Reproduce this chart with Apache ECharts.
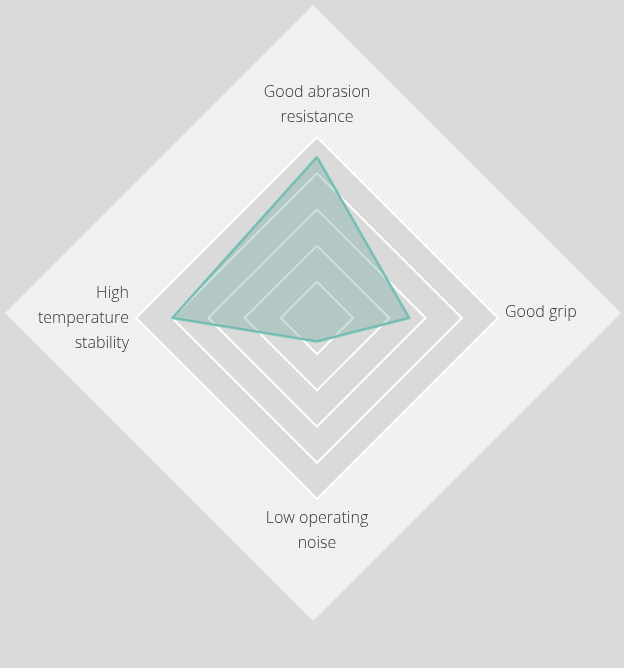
<!DOCTYPE html>
<html>
<head>
<meta charset="utf-8">
<title>Radar</title>
<script src="https://cdn.jsdelivr.net/npm/echarts@6/dist/echarts.min.js"></script>
<style>
html,body{margin:0;padding:0;background:#dadada;}
#main{width:624px;height:668px;}
</style>
</head>
<body>
<div id="main"></div>
<script>
// indicators in ECharts order: top, left, bottom, right
var indicatorNames = ['Good abrasion\nresistance', 'High\ntemperature\nstability', 'Low operating\nnoise', 'Good grip'];
var indicatorMax = [10, 10, 10, 10];
var scores = [8.9, 8.0, 1.3, 5.1];

window.onload = function () {
	initPage();
};

function initPage(){
	var myChart = echarts.init(document.getElementById('main'));
	var indicator = [];
	var bgIndicator = [];
	for(var i=0;i<indicatorNames.length;i++){
		indicator.push({name: indicatorNames[i], max: indicatorMax[i]});
		bgIndicator.push({name: '', max: indicatorMax[i]});
	}

	var option = {
		backgroundColor: '#dadada',
		radar: [
			{
				// big light diamond behind everything
				indicator: bgIndicator,
				shape: 'polygon',
				center: [313, 313],
				radius: 308,
				splitNumber: 1,
				silent: true,
				axisName: {show: false},
				axisLine: {show: false},
				axisTick: {show: false},
				splitLine: {show: false},
				splitArea: {areaStyle: {color: ['#f0f0f0']}}
			},
			{
				indicator: indicator,
				shape: 'polygon',
				center: [317, 318],
				radius: 181,
				splitNumber: 5,
				nameGap: 7,
				axisName: {
					color: '#333',
					fontSize: 16,
					lineHeight: 25,
					fontFamily: 'Open Sans',
					fontWeight: 300,
					formatter: function (name) {
						// single line label sits a bit higher in the original
						if(name.indexOf('\n')<0){
							return '{up|' + name + '}';
						}
						return name;
					},
					rich: {
						up: {
							color: '#333',
							fontSize: 16,
							fontFamily: 'Open Sans',
							fontWeight: 300,
							lineHeight: 25,
							padding: [0, 0, 12, 0]
						}
					}
				},
				axisLine: {show: false},
				axisTick: {show: false},
				splitLine: {lineStyle: {color: '#ffffff', width: 2}},
				splitArea: {areaStyle: {color: ['#dadada']}}
			}
		],
		series: [
			{
				type: 'radar',
				radarIndex: 1,
				symbol: 'none',
				silent: true,
				lineStyle: {color: '#7cc5bc', width: 2.5},
				areaStyle: {color: '#5a9a94', opacity: 0.3},
				data: [{value: scores}]
			}
		]
	};
	myChart.setOption(option);
}
</script>
</body>
</html>
